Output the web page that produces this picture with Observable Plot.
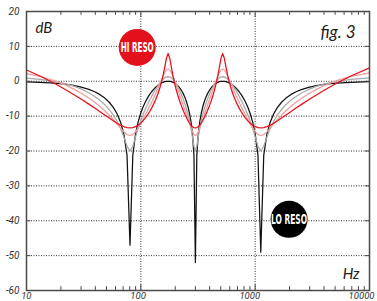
<!DOCTYPE html>
<html><head><meta charset="utf-8">
<script src="https://cdn.jsdelivr.net/npm/d3@7"></script>
<script src="https://cdn.jsdelivr.net/npm/@observablehq/plot@0.6"></script>
<style>
html,body{margin:0;padding:0;background:#fff;}
#chart svg{display:block;overflow:visible}
</style></head><body><div id="chart"></div>
<script>
// Frequencies (Hz) of the sampled response
const freq = [10,
 13.1, 17.47, 21.86, 26.25, 30.65, 35.07, 39.5, 43.94, 48.41, 52.9, 57.41, 61.95, 66.51, 71.1, 75.73, 80.39,
 85.08, 89.81, 94.59, 99.41, 104.28, 109.19, 114.16, 119.18, 124.26, 129.41, 134.62, 139.89, 145.24, 150.67, 156.17, 161.76, 167.44, 173.21,
 179.07, 185.04, 191.12, 197.31, 203.63, 210.06, 216.63, 223.34, 230.2, 237.21, 244.38, 251.73, 259.26, 266.98, 274.9, 283.04, 291.4, 300,
 308.86, 317.98, 327.39, 337.11, 347.14, 357.53, 368.27, 379.41, 390.97, 402.97, 415.45, 428.44, 441.99, 456.13, 470.91, 486.37, 502.59, 519.62,
 537.52, 556.38, 576.3, 597.35, 619.66, 643.36, 668.57, 695.48, 724.27, 755.15, 788.37, 824.24, 863.09, 905.34, 951.47, 1002.07, 1057.83, 1119.6,
 1188.5, 1265.78, 1353.2, 1452.9, 1567.7, 1701.4, 1859.1, 2048.1, 2278.7, 2566.7, 2936.5, 3429, 4118, 5150.8, 6871.3,
 10000];

// Black curve (LO RESO), dB
const loReso = [-0.18,
 -0.3, -0.54, -0.85, -1.25, -1.73, -2.32, -3.01, -3.84, -4.83, -6.02, -7.48, -9.32, -11.74, -15.21, -21.19, -47,
 -21.19, -15.21, -11.74, -9.32, -7.48, -6.02, -4.83, -3.84, -3.01, -2.32, -1.73, -1.25, -0.85, -0.54, -0.3, -0.13, -0.03, 0,
 -0.03, -0.13, -0.3, -0.54, -0.85, -1.25, -1.73, -2.32, -3.01, -3.84, -4.83, -6.02, -7.48, -9.32, -11.74, -15.21, -21.19, -52,
 -21.19, -15.21, -11.74, -9.32, -7.48, -6.02, -4.83, -3.84, -3.01, -2.32, -1.73, -1.25, -0.85, -0.54, -0.3, -0.13, -0.03, 0,
 -0.03, -0.13, -0.3, -0.54, -0.85, -1.25, -1.73, -2.32, -3.01, -3.84, -4.83, -6.02, -7.48, -9.32, -11.74, -15.21, -21.19, -49,
 -21.19, -15.21, -11.74, -9.32, -7.48, -6.02, -4.83, -3.84, -3.01, -2.32, -1.73, -1.25, -0.85, -0.54, -0.3,
 -0.14];

// Grey curve, dB
const midLow = [0.87,
 0.56, -0.01, -0.69, -1.48, -2.35, -3.31, -4.35, -5.48, -6.72, -8.1, -9.66, -11.46, -13.56, -16.03, -18.63, -20,
 -18.63, -16.03, -13.56, -11.46, -9.66, -8.1, -6.72, -5.48, -4.35, -3.31, -2.35, -1.48, -0.69, -0.01, 0.56, 0.98, 1.25, 1.34,
 1.25, 0.98, 0.56, -0.01, -0.69, -1.48, -2.35, -3.31, -4.35, -5.48, -6.72, -8.1, -9.66, -11.46, -13.56, -16.03, -18.63, -20,
 -18.63, -16.03, -13.56, -11.46, -9.66, -8.1, -6.72, -5.48, -4.35, -3.31, -2.35, -1.48, -0.69, -0.01, 0.56, 0.98, 1.25, 1.34,
 1.25, 0.98, 0.56, -0.01, -0.69, -1.48, -2.35, -3.31, -4.35, -5.48, -6.72, -8.1, -9.66, -11.46, -13.56, -16.03, -18.63, -20,
 -18.63, -16.03, -13.56, -11.46, -9.66, -8.1, -6.72, -5.48, -4.35, -3.31, -2.35, -1.48, -0.69, -0.01, 0.56,
 0.96];

// Pink curve, dB
const midHigh = [2.18,
 1.39, 0.18, -1.08, -2.34, -3.58, -4.81, -6.02, -7.24, -8.46, -9.7, -10.96, -12.22, -13.43, -14.51, -15.28, -15.56,
 -15.28, -14.51, -13.43, -12.22, -10.96, -9.7, -8.46, -7.24, -6.02, -4.81, -3.58, -2.34, -1.08, 0.18, 1.39, 2.47, 3.24, 3.52,
 3.24, 2.47, 1.39, 0.18, -1.08, -2.34, -3.58, -4.81, -6.02, -7.24, -8.46, -9.7, -10.96, -12.22, -13.43, -14.51, -15.28, -15.56,
 -15.28, -14.51, -13.43, -12.22, -10.96, -9.7, -8.46, -7.24, -6.02, -4.81, -3.58, -2.34, -1.08, 0.18, 1.39, 2.47, 3.24, 3.52,
 3.24, 2.47, 1.39, 0.18, -1.08, -2.34, -3.58, -4.81, -6.02, -7.24, -8.46, -9.7, -10.96, -12.22, -13.43, -14.51, -15.28, -15.56,
 -15.28, -14.51, -13.43, -12.22, -10.96, -9.7, -8.46, -7.24, -6.02, -4.81, -3.58, -2.34, -1.08, 0.18, 1.39,
 2.41];

// Red curve (HI RESO), dB
const hiReso = [3.23,
 1.52, -0.58, -2.38, -3.94, -5.32, -6.56, -7.7, -8.74, -9.69, -10.56, -11.35, -12.03, -12.6, -13.02, -13.29, -13.38,
 -13.29, -13.02, -12.6, -12.03, -11.35, -10.56, -9.69, -8.74, -7.7, -6.56, -5.32, -3.94, -2.38, -0.58, 1.52, 3.99, 6.59, 7.96,
 6.59, 3.99, 1.52, -0.58, -2.38, -3.94, -5.32, -6.56, -7.7, -8.74, -9.69, -10.56, -11.35, -12.03, -12.6, -13.02, -13.29, -13.38,
 -13.29, -13.02, -12.6, -12.03, -11.35, -10.56, -9.69, -8.74, -7.7, -6.56, -5.32, -3.94, -2.38, -0.58, 1.52, 3.99, 6.59, 7.96,
 6.59, 3.99, 1.52, -0.58, -2.38, -3.94, -5.32, -6.56, -7.7, -8.74, -9.69, -10.56, -11.35, -12.03, -12.6, -13.02, -13.29, -13.38,
 -13.29, -13.02, -12.6, -12.03, -11.35, -10.56, -9.69, -8.74, -7.7, -6.56, -5.32, -3.94, -2.38, -0.58, 1.52,
 3.83];

const seriesNames = ["lo", "midLow", "midHigh", "hi"];
const seriesColors = ["#111111", "#a8a8a8", "#f29b9b", "#e3111c"];

// Axes
const yTicks = [20, 10, 0, -10, -20, -30, -40, -50, -60];
const yGrid = [10, 0, -10, -20, -30, -40, -50];
const xTicks = [10, 100, 1000, 10000];
const xGrid = [100, 1000];
const xMinor = [20,30,40,50,60,70,80,90,200,300,400,500,600,700,800,900,2000,3000,4000,5000,6000,7000,8000,9000];

// Badges
const badgeText = ["HI RESO", "LO RESO"];
const badgeFreq = [93, 1980];
const badgeDb = [9.7, -39.6];
const badgeColor = ["#e3111c", "#000000"];

const allSeries = [loReso, midLow, midHigh, hiReso];
const rows = allSeries.flatMap((arr, s) => freq.map((f, i) => ({f, db: arr[i], s: seriesNames[s]})));
const badges = badgeText.map((t, i) => ({t, f: badgeFreq[i], db: badgeDb[i], c: badgeColor[i]}));

const axisColor = "#4a4a4a";
const labelFont = "'Liberation Sans Narrow', Roboto, sans-serif";
const titleFont = "Lato, 'Open Sans', sans-serif";

const chart = Plot.plot({
  width: 377, height: 301,
  marginLeft: 26, marginRight: 8, marginTop: 11, marginBottom: 11,
  x: {type: "log", domain: [10, 10000], axis: null},
  y: {domain: [-60, 20], axis: null},
  style: {background: "#fff", overflow: "visible"},
  marks: [
    Plot.ruleY(yGrid, {stroke: "#333", strokeWidth: 1, strokeDasharray: "1,1.5"}),
    Plot.ruleX(xGrid, {stroke: "#333", strokeWidth: 1, strokeDasharray: "1,1.5"}),
    ...seriesNames.map((n, i) => Plot.line(rows.filter(r => r.s === n), {
      x: "f", y: "db", stroke: seriesColors[i], strokeWidth: 1.25, curve: "linear"
    })),
    Plot.dot(badges, {x: "f", y: "db", r: 18.5, fill: "c", stroke: null}),
    Plot.text(badges, {x: "f", y: "db", text: "t", fill: "#fff", fontSize: 13.5, fontWeight: "bold",
      fontFamily: "'DejaVu Sans Condensed', 'DejaVu Sans', sans-serif"}),
    // inner ticks
    Plot.ruleX(xMinor, {y1: -60, y2: -58.9, stroke: axisColor, strokeWidth: 1}),
    Plot.ruleX(xMinor, {y1: 20, y2: 18.9, stroke: axisColor, strokeWidth: 1}),
    Plot.ruleX(xGrid, {y1: -60, y2: -58.3, stroke: axisColor, strokeWidth: 1}),
    Plot.ruleX(xGrid, {y1: 20, y2: 18.3, stroke: axisColor, strokeWidth: 1}),
    Plot.ruleY(yGrid, {x1: 10, x2: 10.9, stroke: axisColor, strokeWidth: 1}),
    Plot.ruleY(yGrid, {x1: 9200, x2: 10000, stroke: axisColor, strokeWidth: 1}),
    Plot.frame({stroke: axisColor, strokeWidth: 1.5}),
    // tick labels
    Plot.text(yTicks, {x: 10, y: d => d, text: d => String(d), textAnchor: "end", dx: -7,
      fontSize: 10, fontStyle: "italic", fill: "#333", fontFamily: labelFont}),
    Plot.text(xTicks, {x: d => d, y: -60, text: d => String(d), textAnchor: "end", dx: 5, dy: 2,
      lineAnchor: "top", fontSize: 9.5, fontStyle: "italic", fill: "#333", fontFamily: labelFont}),
    // titles
    Plot.text(["dB"], {frameAnchor: "top-left", dx: 9, dy: 21, lineAnchor: "bottom", textAnchor: "start",
      fontSize: 15, fontStyle: "italic", fill: "#222", fontFamily: titleFont}),
    Plot.text(["fig. 3"], {frameAnchor: "top-right", dx: -14, dy: 26, lineAnchor: "bottom", textAnchor: "end",
      fontSize: 17, fontStyle: "italic", fill: "#222", fontFamily: titleFont}),
    Plot.text(["Hz"], {frameAnchor: "bottom-right", dx: -10, dy: -12, lineAnchor: "bottom", textAnchor: "end",
      fontSize: 15, fontStyle: "italic", fill: "#222", fontFamily: titleFont})
  ]
});

// squeeze badge captions to the narrow lettering of the original
chart.querySelectorAll("text").forEach(t => {
  if (t.textContent === "HI RESO") { t.setAttribute("textLength", "33"); t.setAttribute("lengthAdjust", "spacingAndGlyphs"); }
  if (t.textContent === "LO RESO") { t.setAttribute("textLength", "36"); t.setAttribute("lengthAdjust", "spacingAndGlyphs"); }
});

document.getElementById("chart").appendChild(chart);
</script>
</body></html>
